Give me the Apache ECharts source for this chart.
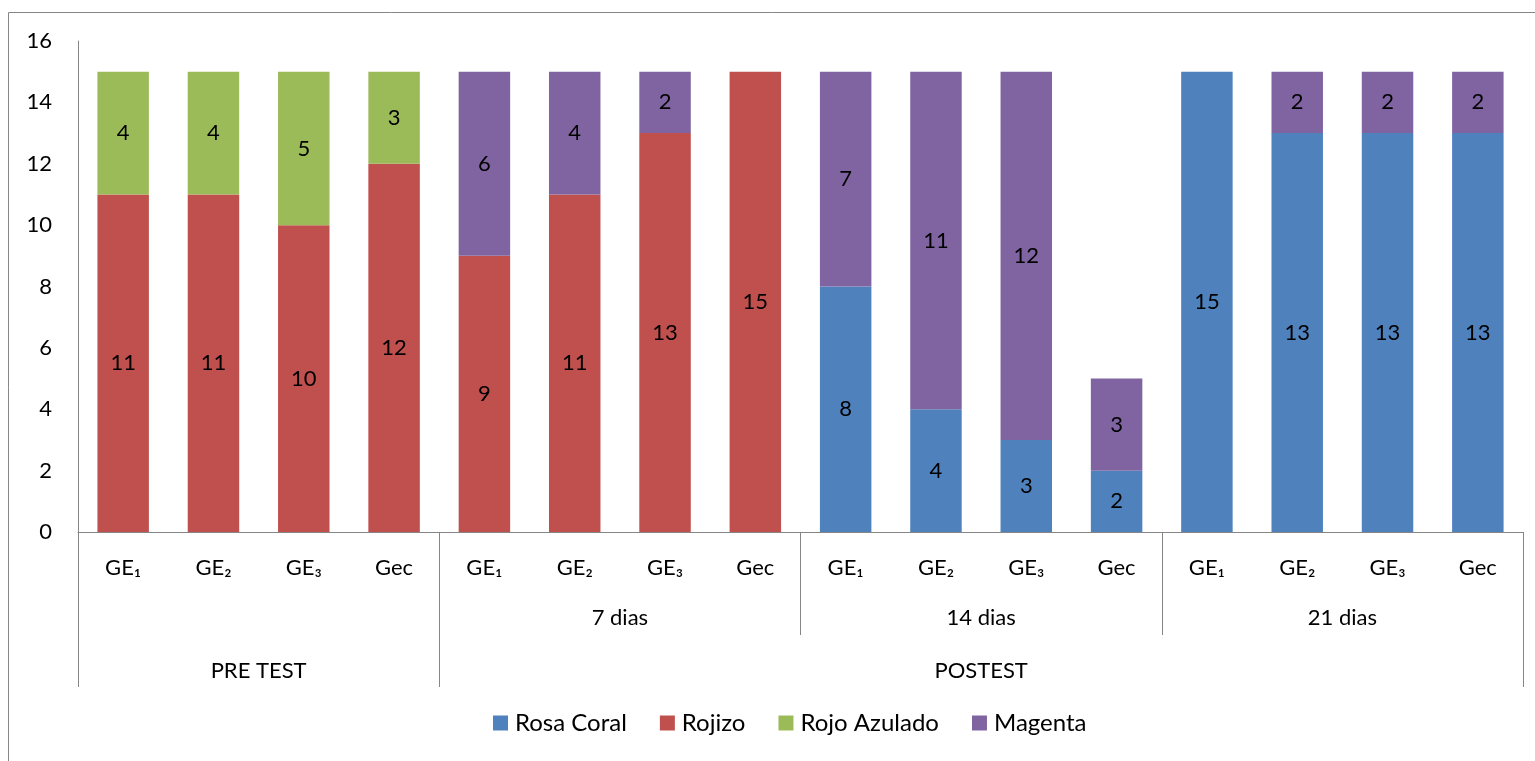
<!DOCTYPE html>
<html>
<head>
<meta charset="utf-8">
<script src="https://cdn.jsdelivr.net/npm/echarts@6/dist/echarts.min.js"></script>
<style>
  html, body { margin: 0; padding: 0; background: #fff; }
  #chart { width: 1535px; height: 761px; }
</style>
</head>
<body>
<div id="chart"></div>
<script>
// Groups of the bars (lowest axis level)
const groups = ['GE₁', 'GE₂', 'GE₃', 'Gec', 'GE₁', 'GE₂', 'GE₃', 'Gec',
                'GE₁', 'GE₂', 'GE₃', 'Gec', 'GE₁', 'GE₂', 'GE₃', 'Gec'];
// Second level: periods
const periods = ['7 dias', '14 dias', '21 dias'];
// Third level: phases
const phases = ['PRE TEST', 'POSTEST'];

// Counts per colour (null = no segment)
const rosaCoral   = [null, null, null, null, null, null, null, null, 8, 4, 3, 2, 15, 13, 13, 13];
const rojizo      = [11, 11, 10, 12, 9, 11, 13, 15, null, null, null, null, null, null, null, null];
const rojoAzulado = [4, 4, 5, 3, null, null, null, null, null, null, null, null, null, null, null, null];
const magenta     = [null, null, null, null, 6, 4, 2, null, 7, 11, 12, 3, null, 2, 2, 2];

const yTicks = { min: 0, max: 16, step: 2 };

const FONT = "Lato, 'DejaVu Sans', sans-serif";
const FS = 22;
const AXIS_COLOR = '#868686';

const chart = echarts.init(document.getElementById('chart'));

function barSeries(name, data, color) {
  return {
    name: name,
    type: 'bar',
    stack: 'total',
    barWidth: '57%',
    data: data,
    itemStyle: { color: color },
    label: {
      show: true,
      position: 'inside',
      color: '#000',
      fontFamily: FONT,
      fontSize: FS
    },
    emphasis: { disabled: true }
  };
}

chart.setOption({
  animation: false,
  backgroundColor: '#fff',
  graphic: [{
    type: 'rect',
    shape: { x: 8.5, y: 12.5, width: 1600, height: 800 },
    style: { fill: 'none', stroke: AXIS_COLOR, lineWidth: 1 },
    silent: true,
    z: -10
  }],
  grid: { left: 78, right: 12, top: 41, bottom: 229, containLabel: false },
  legend: {
    top: 706,
    left: 488,
    itemWidth: 15,
    itemHeight: 15,
    itemGap: 33,
    icon: 'rect',
    textStyle: { fontFamily: FONT, fontSize: 24, color: '#000', padding: [0, 0, 0, 2] },
    data: ['Rosa Coral', 'Rojizo', 'Rojo Azulado', 'Magenta']
  },
  xAxis: [
    {
      type: 'category',
      data: groups,
      position: 'bottom',
      axisLine: { show: true, lineStyle: { color: AXIS_COLOR, width: 1 } },
      axisTick: { show: false },
      axisLabel: { color: '#000', fontFamily: FONT, fontSize: FS, margin: 25, interval: 0 },
      splitLine: { show: false }
    },
    {
      type: 'value',
      min: 0, max: 16,
      position: 'bottom',
      axisLine: { show: false },
      axisTick: { show: true, customValues: [8, 12], length: 103, lineStyle: { color: AXIS_COLOR } },
      axisLabel: {
        customValues: [6, 10, 14],
        formatter: function (v) { return periods[(v - 6) / 4]; },
        color: '#000', fontFamily: FONT, fontSize: FS, margin: 75
      },
      splitLine: { show: false }
    },
    {
      type: 'value',
      min: 0, max: 16,
      position: 'bottom',
      axisLine: { show: false },
      axisTick: { show: true, customValues: [0, 4, 16], length: 155, lineStyle: { color: AXIS_COLOR } },
      axisLabel: {
        customValues: [2, 10],
        formatter: function (v) { return v === 2 ? phases[0] : phases[1]; },
        color: '#000', fontFamily: FONT, fontSize: FS, margin: 128
      },
      splitLine: { show: false }
    }
  ],
  yAxis: {
    type: 'value',
    min: yTicks.min,
    max: yTicks.max,
    interval: yTicks.step,
    axisLine: { show: true, lineStyle: { color: AXIS_COLOR, width: 1 } },
    axisTick: { show: false },
    axisLabel: { color: '#000', fontFamily: FONT, fontSize: FS, margin: 26 },
    splitLine: { show: false }
  },
  series: [
    barSeries('Rosa Coral', rosaCoral, '#4F81BD'),
    barSeries('Rojizo', rojizo, '#C0504D'),
    barSeries('Rojo Azulado', rojoAzulado, '#9BBB59'),
    barSeries('Magenta', magenta, '#8064A2')
  ]
});
</script>
</body>
</html>
